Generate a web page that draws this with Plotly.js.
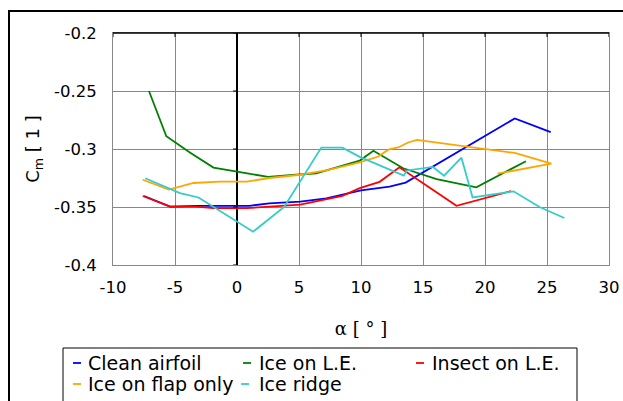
<!DOCTYPE html>
<html>
<head>
<meta charset="utf-8">
<script src="https://cdn.plot.ly/plotly-3.0.1.min.js"></script>
<style>
  html, body { margin: 0; padding: 0; background: #fff; }
  #chart { width: 623px; height: 401px; }
</style>
</head>
<body>
<div id="chart"></div>
<script>
// ---- data ----
const seriesNames = ["Clean airfoil", "Ice on L.E.", "Insect on L.E.", "Ice on flap only", "Ice ridge"];
const seriesColors = ["#0000FF", "#008000", "#FF0000", "#FFA500", "#33CCCC"];

const cleanX = [-7.5, -5.4, -3.3, -0.1, 1.0, 2.6, 5.1, 7.2, 10.0, 12.3, 13.6, 22.4, 25.3];
const cleanY = [-0.3405, -0.3497, -0.349, -0.349, -0.349, -0.3468, -0.3454, -0.3426, -0.3356, -0.3325, -0.329, -0.2736, -0.2855];

const iceLeX = [-7.1, -5.7, -3.8, -1.9, 0.0, 1.0, 2.5, 5.0, 6.4, 8.3, 9.9, 11.0, 13.4, 16.1, 19.3, 23.3];
const iceLeY = [-0.250, -0.289, -0.303, -0.316, -0.3195, -0.3215, -0.324, -0.322, -0.321, -0.315, -0.310, -0.3015, -0.3166, -0.326, -0.333, -0.3105];

const insectX = [-7.6, -5.4, -3.3, -1.9, 0.8, 2.6, 5.1, 8.5, 9.9, 11.5, 12.4, 13.1, 17.7, 22.1];
const insectY = [-0.3405, -0.3497, -0.3497, -0.351, -0.351, -0.3497, -0.348, -0.3404, -0.3338, -0.3283, -0.3213, -0.3158, -0.349, -0.3363];

const flapX = [-7.6, -5.5, -3.5, -1.4, 0.8, 2.6, 5.1, 7.2, 9.9, 11.4, 12.2, 13.0, 13.8, 14.5, 22.4, 25.35, 21.0];
const flapY = [-0.3265, -0.335, -0.3293, -0.3282, -0.3282, -0.325, -0.3222, -0.3185, -0.3116, -0.3065, -0.3006, -0.2987, -0.2944, -0.2922, -0.3034, -0.3127, -0.3213];

const ridgeX = [-7.4, -4.6, -3.1, 1.3, 3.8, 6.8, 8.5, 9.9, 13.45, 13.7, 15.8, 16.7, 18.1, 19.0, 22.3, 24.4, 26.4];
const ridgeY = [-0.3252, -0.338, -0.3418, -0.3713, -0.350, -0.2988, -0.2988, -0.3068, -0.323, -0.3185, -0.3155, -0.323, -0.3075, -0.3417, -0.3365, -0.350, -0.3595];

const xTickVals = [-10, -5, 0, 5, 10, 15, 20, 25, 30];
const xTickText = ["-10", "-5", "0", "5", "10", "15", "20", "25", "30"];
const yTickVals = [-0.4, -0.35, -0.3, -0.25, -0.2];
const yTickText = ["-0.4", "-0.35", "-0.3", "-0.25", "-0.2"];

const xTitle = "α [ ° ]";
const yTitle = "C<sub>m</sub> [ 1 ]";

// ---- layout helpers ----
const W = 623, H = 401;
const M = { l: 113, r: 14, t: 33, b: 136 };
const PL = M.l, PR = W - M.r, PT = M.t, PB = H - M.b;
const px = v => (v - PL) / (PR - PL);
const py = v => (PB - v) / (PB - PT);

const xs = [cleanX, iceLeX, insectX, flapX, ridgeX];
const ys = [cleanY, iceLeY, insectY, flapY, ridgeY];

const traces = seriesNames.map((n, i) => ({
  type: "scatter", mode: "lines", name: n,
  x: xs[i], y: ys[i],
  line: { color: seriesColors[i], width: 1.8 },
  showlegend: false, hoverinfo: "skip"
}));

const FONT = "DejaVu Sans, Arial, sans-serif";

// custom legend placement (pixels)
const legendItems = [
  { sx: 73, tx: 86, y: 363 },
  { sx: 243, tx: 257, y: 363 },
  { sx: 416, tx: 430, y: 363 },
  { sx: 73, tx: 86, y: 384 },
  { sx: 241, tx: 257, y: 384 }
];

const shapes = [
  // outer figure frame
  { type: "rect", xref: "paper", yref: "paper", x0: px(9), x1: px(800), y0: py(11), y1: py(600),
    line: { color: "#000", width: 2 }, fillcolor: "rgba(0,0,0,0)", layer: "above" },
  // top black axis line
  { type: "line", xref: "paper", yref: "paper", x0: 0, x1: 1, y0: 1, y1: 1,
    line: { color: "#000", width: 1.5 }, layer: "above" },
  // legend box
  { type: "rect", xref: "paper", yref: "paper", x0: px(63), x1: px(577), y0: py(348), y1: py(460),
    line: { color: "#000", width: 1 }, fillcolor: "rgba(0,0,0,0)", layer: "above" }
];
// small tick marks on the top axis line and on the vertical axis at x = 0
xTickVals.forEach(v => {
  shapes.push({ type: "line", xref: "x", yref: "paper", x0: v, x1: v, y0: 1, y1: py(PT + 4),
    line: { color: "#000", width: 1 }, layer: "above" });
});
yTickVals.forEach(v => {
  shapes.push({ type: "line", xref: "paper", yref: "y", x0: px(PL + (PR - PL) * 0.25 - 4), x1: 0.25, y0: v, y1: v,
    line: { color: "#000", width: 1 }, layer: "above" });
});

const annotations = [];
legendItems.forEach((it, i) => {
  shapes.push({ type: "line", xref: "paper", yref: "paper",
    x0: px(it.sx), x1: px(it.sx + 8), y0: py(it.y), y1: py(it.y),
    line: { color: seriesColors[i], width: 1.8 }, layer: "above" });
  annotations.push({ xref: "paper", yref: "paper", x: px(it.tx), y: py(it.y),
    xanchor: "left", yanchor: "middle", showarrow: false, text: seriesNames[i],
    font: { family: FONT, size: 19, color: "#000" } });
});

const layout = {
  width: W, height: H,
  margin: M,
  paper_bgcolor: "#fff", plot_bgcolor: "#fff",
  showlegend: false,
  xaxis: {
    range: [-10, 30], tickvals: xTickVals, ticktext: xTickText,
    showgrid: true, gridcolor: "#888", gridwidth: 1,
    zeroline: true, zerolinecolor: "#000", zerolinewidth: 1.3,
    showline: true, mirror: true, linecolor: "#888", linewidth: 1,
    ticks: "", ticklabelstandoff: 7,
    tickfont: { family: FONT, size: 16.5, color: "#000" },
    title: { text: xTitle, font: { family: "DejaVu Serif, serif", size: 18, color: "#000" }, standoff: 26 },
    fixedrange: true
  },
  yaxis: {
    range: [-0.4, -0.2], tickvals: yTickVals, ticktext: yTickText,
    showgrid: true, gridcolor: "#888", gridwidth: 1,
    zeroline: false,
    showline: true, mirror: true, linecolor: "#888", linewidth: 1,
    ticks: "", ticklabelstandoff: 12,
    tickfont: { family: FONT, size: 16.5, color: "#000" },
    title: { text: yTitle, font: { family: FONT, size: 18, color: "#000" }, standoff: 9 },
    fixedrange: true
  },
  shapes: shapes,
  annotations: annotations
};

Plotly.newPlot("chart", traces, layout, { staticPlot: true, displayModeBar: false });
</script>
</body>
</html>
